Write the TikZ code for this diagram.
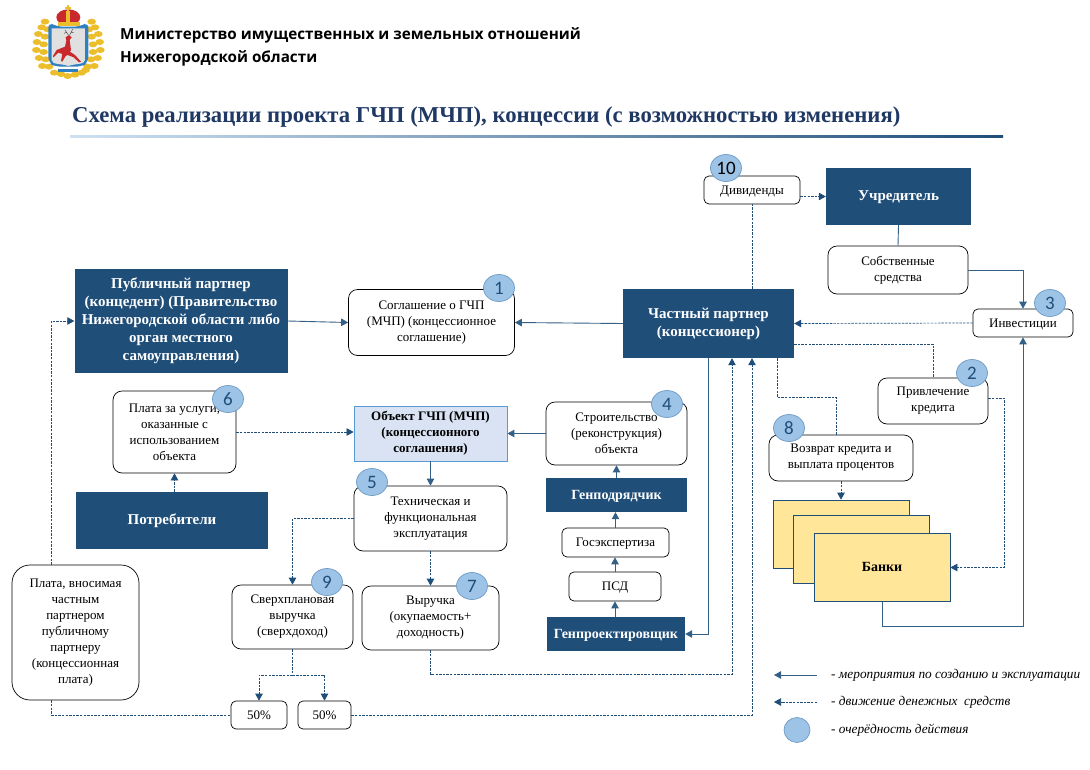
\documentclass[tikz,border=0pt]{standalone}
\usepackage{fontspec}
\setmainfont{Liberation Serif}
\newfontfamily\headfont{Open Sans}
\newfontfamily\digitfont{Carlito}
\usetikzlibrary{arrows.meta,positioning,shapes.geometric}
\definecolor{deep-blue}{HTML}{1F4E79}
\definecolor{title-blue}{HTML}{1F3864}
\definecolor{badge-blue}{HTML}{9DC3E6}
\definecolor{badge-line}{HTML}{6E9BC5}
\definecolor{object-blue}{HTML}{DAE3F3}
\definecolor{object-line}{HTML}{5B9BD5}
\definecolor{bank-yellow}{HTML}{FFE699}
\definecolor{crest-gold}{HTML}{EDBE2C}
\definecolor{crest-red}{HTML}{C9282D}
\definecolor{crest-blue}{HTML}{2F7FC1}

\begin{document}
\begin{tikzpicture}
    [x=1pt, y=-1pt,
    every node/.style={font=\fontsize{13}{16}\selectfont, inner sep=0pt, align=center},
    oneline/.style={text height=11pt, text depth=3pt},
    stepbox/.style={draw=black, fill=white, rounded corners=9pt, line width=.7pt},
    smallbox/.style={draw=black, fill=white, rounded corners=5pt, line width=.7pt, oneline},
    partner/.style={fill=deep-blue, text=white, font=\fontsize{15}{18}\selectfont\bfseries},
    bank/.style={draw=deep-blue, fill=bank-yellow, line width=.7pt, minimum width=136pt, minimum height=68pt},
    badge/.style={ellipse, draw=badge-line, fill=badge-blue, line width=.7pt, minimum width=31pt, minimum height=27pt,
      text=deep-blue, font=\digitfont\fontsize{19}{19}\selectfont},
    legendtext/.style={anchor=west, font=\fontsize{13.3}{15}\selectfont\itshape},
    work/.style={-{Triangle[length=7pt,width=7.5pt]}, deep-blue!90, line width=.9pt},
    workline/.style={deep-blue!90, line width=.9pt},
    money/.style={-{Triangle[length=7pt,width=7.5pt]}, deep-blue, line width=.7pt, dash pattern=on 2.4pt off 1.2pt},
    moneyline/.style={deep-blue, line width=.7pt, dash pattern=on 2.4pt off 1.2pt}]

    \useasboundingbox (0,0) rectangle (1090,769);

    % crest
    \begin{scope}[shift={(25,0)}, x=.3333pt, y=-.3333pt]
      \foreach \px/\py in {60/65,50/82,68/88,40/102,60/110,36/126,56/133,34/150,56/156,42/174,62/178,52/198,72/200,
        200/65,210/82,192/88,220/102,200/110,224/126,204/133,226/150,204/156,218/174,198/178,208/198,188/200,
        88/218,108/222,128/228,150/224,170/218,182/210}
        \fill [crest-gold] (\px,\py) ellipse (13 and 9);
      \fill [crest-blue, rounded corners=6pt] (70,66) -- (95,80) -- (165,80) -- (190,66) -- (190,188) -- (170,200)
        -- (90,200) -- (70,188) -- cycle;
      \fill [crest-blue] (100,208) rectangle (160,216);
      \fill [black!12] (80,85) -- (180,85) -- (180,180) .. controls (180,195) and (150,190) .. (130,198)
        .. controls (110,190) and (80,195) .. (80,180) -- cycle;
      \fill [crest-red] (122,112) -- (132,105) -- (140,112) -- (134,120) -- (138,150) -- (135,155) -- (150,165)
        -- (168,185) -- (162,187) -- (146,172) -- (128,165) -- (122,168) -- (112,185) -- (108,183) -- (112,162)
        -- (100,158) -- (86,172) -- (84,168) -- (95,150) -- (120,140) -- (124,122) -- cycle;
      \draw [black!70, line width=.5pt] (130,105) -- (120,90) (125,97) -- (117,100) (134,105) -- (143,88) (138,97) -- (146,98);
      \fill [crest-red] (130,52) ellipse (36 and 24);
      \fill [crest-gold] (124,32) rectangle (136,68);
      \fill [crest-gold] (98,66) rectangle (164,78);
      \fill [crest-gold] (125,16) rectangle (133,34);
      \fill [crest-gold] (121,21) rectangle (137,26);
    \end{scope}

    \node [anchor=west, font=\headfont\fontsize{15.25}{18}\selectfont\bfseries] (ministry) at (120,35.5)
      {Министерство имущественных и земельных отношений};
    \node [anchor=west, font=\headfont\fontsize{15.25}{18}\selectfont\bfseries] (region) at (120,58)
      {Нижегородской области};
    \node [anchor=west, text=title-blue, font=\fontsize{22.7}{26}\selectfont\bfseries] (title) at (72,117.5)
      {Схема реализации проекта ГЧП (МЧП), концессии (с возможностью изменения)};
    \shade [left color=badge-blue!50, right color=deep-blue] (70,135.5) rectangle (1003,137.5);

    \node [smallbox, minimum width=96pt, minimum height=28pt] (dividends) at (752,190) {Дивиденды};
    \node [partner, oneline, minimum width=145pt, minimum height=57pt] (founder) at (898.5,196.5) {Учредитель};
    \node [stepbox, minimum width=140pt, minimum height=48pt] (own funds) at (898,270) {Собственные\\средства};
    \node [smallbox, minimum width=100pt, minimum height=28pt] (investments) at (1023,323) {Инвестиции};
    \node [partner, minimum width=171pt, minimum height=69pt] (private) at (708.5,323.5) {Частный партнер\\(концессионер)};
    \node [stepbox, minimum width=110pt, minimum height=46pt] (credit) at (933,401) {Привлечение\\кредита};
    \node [stepbox, minimum width=144pt, minimum height=46pt] (repayment) at (841,458) {Возврат кредита и\\выплата процентов};
    \node [bank] (bank one) at (841,534) {};
    \node [bank] (bank two) at (861,549.5) {};
    \node [bank, oneline, font=\fontsize{14}{16}\selectfont\bfseries] (banks) at (882,567.5) {Банки};

    \node [partner, minimum width=213pt, minimum height=104pt] (public) at (181,321)
      {Публичный партнер\\(концедент) (Правительство\\Нижегородской области либо\\орган местного\\самоуправления)};
    \node [stepbox, minimum width=166pt, minimum height=66pt] (agreement) at (431.5,322.5)
      {Соглашение о ГЧП\\(МЧП) (концессионное\\соглашение)};
    \node [stepbox, minimum width=123pt, minimum height=82pt] (services) at (174.5,432)
      {Плата за услуги,\\оказанные с\\использованием\\объекта};
    \node [draw=object-line, fill=object-blue, line width=.8pt, minimum width=153pt, minimum height=55pt,
      font=\fontsize{13}{16}\selectfont\bfseries] (object) at (430.5,433.5)
      {Объект ГЧП (МЧП)\\(концессионного\\соглашения)};
    \node [partner, oneline, minimum width=192pt, minimum height=57pt] (consumers) at (172,520.5) {Потребители};
    \node [stepbox, minimum width=153pt, minimum height=65pt] (operation) at (430.5,518.5)
      {Техническая и\\функциональная\\эксплуатация};
    \node [stepbox, minimum width=141pt, minimum height=63pt] (building) at (616.5,433.5)
      {Строительство\\(реконструкция)\\объекта};
    \node [partner, oneline, font=\fontsize{14}{16}\selectfont\bfseries, minimum width=141pt, minimum height=34pt] (contractor) at (616.5,495) {Генподрядчик};
    \node [smallbox, minimum width=107pt, minimum height=29pt] (expertise) at (615.5,542.5) {Госэкспертиза};
    \node [smallbox, minimum width=92pt, minimum height=29pt] (psd) at (615,586.5) {ПСД};
    \node [partner, oneline, font=\fontsize{14}{16}\selectfont\bfseries, minimum width=138pt, minimum height=34pt] (designer) at (616,634) {Генпроектировщик};
    \node [stepbox, minimum width=121pt, minimum height=64pt] (surplus) at (292.5,617)
      {Сверхплановая\\выручка\\(сверхдоход)};
    \node [stepbox, minimum width=137pt, minimum height=64pt] (revenue) at (430.5,618)
      {Выручка\\(окупаемость+\\доходность)};
    \node [stepbox, rounded corners=18pt, minimum width=127pt, minimum height=135pt] (fee) at (75.5,632.5)
      {Плата, вносимая\\частным\\партнером\\публичному\\партнеру\\(концессионная\\плата)};
    \node [smallbox, minimum width=56pt, minimum height=28pt] (half left) at (259,715) {50\%};
    \node [smallbox, minimum width=53pt, minimum height=28pt] (half right) at (324.5,715) {50\%};

    \coordinate (repayment bend) at (836,397);
    \coordinate (credit bend) at (1004,398);
    \coordinate (bank bend) at (1023,626);
    \coordinate (revenue bend) at (732,674);
    \coordinate (surplus split) at (292.5,675);

    \draw [money] (dividends.east |- founder.west) -- (founder.west);
    \draw [moneyline] (private.north -| dividends.south) -- (dividends.south);
    \draw [workline] (founder.south) -- (own funds.north);
    \draw [work] (own funds.east) -| (investments.north);
    \draw [money] (investments.west) -- (private.east);
    \draw [moneyline] ([yshift=-20.5pt]private.east) -| (credit.north);
    \draw [moneyline] ([xshift=68.5pt]private.south) |- (repayment bend) -- ([xshift=-5pt]repayment.north);
    \draw [money] (repayment.south) -- (repayment.south |- bank one.north);
    \draw [money] ([yshift=3pt]credit.east) -- (credit bend) |- (banks.east);
    \draw [work] (banks.south) |- (bank bend) -- (investments.south);
    \draw [work] (public.east) -- (agreement.west);
    \draw [work] (private.west) -- (agreement.east);
    \draw [work] (private.south) |- (designer.east);
    \draw [work] (designer.north -| psd.south) -- (psd.south);
    \draw [work] (psd.north) -- (psd.north |- expertise.south);
    \draw [work] (expertise.north) -- (expertise.north |- contractor.south);
    \draw [work] (contractor.north) -- (building.south);
    \draw [work] (building.west) -- (object.east);
    \draw [work] (object.south) -- (operation.north);
    \draw [money] (services.east) -- (object.west |- services.east);
    \draw [money] (consumers.north -| services.south) -- (services.south);
    \draw [money] (operation.west) -| (surplus.north);
    \draw [money] (operation.south) -- (revenue.north);
    \draw [moneyline] (surplus.south) -- (surplus split);
    \draw [money] (surplus split) -| (half left.north);
    \draw [money] (surplus split) -| (half right.north);
    \draw [money] (revenue.south) |- (revenue bend) -- ([xshift=23.5pt]private.south);
    \draw [money] (half right.east) -| ([xshift=43.5pt]private.south);
    \draw [moneyline] ([xshift=-24pt]fee.south) |- (half left.west);
    \draw [money] ([xshift=-24pt]fee.north) |- (public.west);

    \node [badge] (badge one) at (499,288) {1};
    \node [badge] (badge two) at (972,373) {2};
    \node [badge] (badge three) at (1050,303) {3};
    \node [badge] (badge four) at (667,404) {4};
    \node [badge] (badge five) at (372,482) {5};
    \node [badge] (badge six) at (228,399) {6};
    \node [badge] (badge seven) at (472,586) {7};
    \node [badge] (badge eight) at (789,428) {8};
    \node [badge] (badge nine) at (327,582) {9};
    \node [badge, text=black] (badge ten) at (726,168) {10};

    % legend
    \coordinate (legend work) at (817,675);
    \coordinate (legend money) at (817,702);
    \node [legendtext] (legend one) at (831,675) {- мероприятия по созданию и эксплуатации};
    \node [legendtext] (legend two) at (831,702) {- движение денежных~~средств};
    \node [legendtext] (legend three) at (831,730) {- очерёдность действия};
    \draw [work] (legend work) -- +(-43,0);
    \draw [money] (legend money) -- +(-43,0);
    \node [badge, minimum width=26pt, minimum height=25pt] (legend badge) at (797,730) {};
\end{tikzpicture}
\end{document}
